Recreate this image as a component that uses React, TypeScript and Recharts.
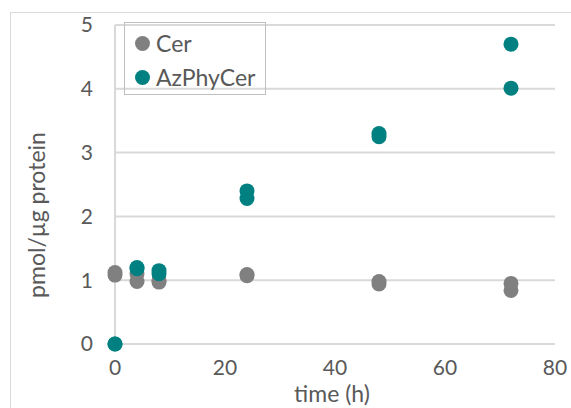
import React from 'react';
import { ScatterChart, Scatter, XAxis, YAxis, CartesianGrid, Legend } from 'recharts';

const seriesNames = ['Cer', 'AzPhyCer'];
const cerTime = [0, 0, 4, 4, 8, 8, 24, 24, 48, 48, 72, 72];
const cerValues = [1.12, 1.08, 1.1, 0.98, 1.0, 0.97, 1.09, 1.07, 0.98, 0.94, 0.95, 0.84];
const azTime = [0, 0, 4, 4, 8, 8, 24, 24, 48, 48, 72, 72];
const azValues = [0, 0, 1.2, 1.18, 1.15, 1.1, 2.4, 2.28, 3.3, 3.25, 4.7, 4.01];
const xTicks = [0, 20, 40, 60, 80];
const yTicks = [0, 1, 2, 3, 4, 5];

const cerData = cerTime.map((t, i) => ({ x: t, y: cerValues[i] }));
const azData = azTime.map((t, i) => ({ x: t, y: azValues[i] }));

const GRAY = '#808080';
const TEAL = '#008080';
const FONT = 'Lato, "Open Sans", sans-serif';

const dot = (color: string) => (props: any) => (
  <circle cx={props.cx} cy={props.cy} r={7.5} fill={color} />
);

const LegendBox = (props: any) => {
  const items = [...(props.payload || [])].sort(
    (a: any, b: any) => seriesNames.indexOf(a.value) - seriesNames.indexOf(b.value)
  );
  return (
    <div
      style={{
        width: 142,
        height: 73,
        border: '1.5px solid #bfbfbf',
        boxSizing: 'border-box',
        fontFamily: FONT,
        fontSize: 23,
        color: '#595959',
        padding: '3px 0 0 10px',
      }}
    >
      {items.map((it: any) => (
        <div key={it.value} style={{ display: 'flex', alignItems: 'center', height: 34 }}>
          <span
            style={{
              display: 'inline-block',
              width: 15,
              height: 15,
              borderRadius: '50%',
              background: it.color,
              marginRight: 6,
            }}
          />
          <span>{it.value}</span>
        </div>
      ))}
    </div>
  );
};

export default function App() {
  return (
    <div style={{ position: 'absolute', left: 0, top: 0, width: 571, height: 408, overflow: 'hidden', background: '#fff' }}>
      <div
        style={{
          position: 'absolute',
          left: 10,
          top: 12,
          width: 620,
          height: 450,
          border: '1.5px solid #d9d9d9',
        }}
      />
      <div style={{ position: 'absolute', left: 0, top: 0 }}>
        <ScatterChart width={571} height={408} margin={{ top: 25, right: 16, left: 0, bottom: 0 }}>
          <CartesianGrid horizontal vertical={false} stroke="#d9d9d9" strokeWidth={2} />
          <XAxis
            type="number"
            dataKey="x"
            domain={[0, 80]}
            ticks={xTicks}
            height={64}
            axisLine={false}
            tickLine={false}
            tickMargin={10}
            tick={{ fill: '#595959', fontSize: 21, fontFamily: FONT }}
            label={{
              content: () => (
                <text x={332} y={402} textAnchor="middle" fill="#595959" fontSize={23} fontFamily={FONT}>
                  time (h)
                </text>
              ),
            }}
          />
          <YAxis
            type="number"
            dataKey="y"
            domain={[0, 5]}
            ticks={yTicks}
            width={115}
            axisLine={{ stroke: '#d9d9d9', strokeWidth: 2 }}
            tickLine={false}
            tickMargin={16}
            tick={{ fill: '#595959', fontSize: 21, fontFamily: FONT }}
            label={{
              content: () => (
                <text
                  x={36}
                  y={215}
                  transform="rotate(-90 36 215)"
                  textAnchor="middle"
                  dominantBaseline="central"
                  fill="#595959"
                  fontSize={23}
                  fontFamily={FONT}
                >
                  pmol/µg protein
                </text>
              ),
            }}
          />
          <Legend
            layout="horizontal"
            verticalAlign="middle"
            align="center"
            wrapperStyle={{ left: 124, top: 22, width: 142, height: 73 }}
            content={LegendBox}
          />
          <Scatter name="Cer" data={cerData} fill={GRAY} shape={dot(GRAY)} isAnimationActive={false} />
          <Scatter name="AzPhyCer" data={azData} fill={TEAL} shape={dot(TEAL)} isAnimationActive={false} />
        </ScatterChart>
      </div>
    </div>
  );
}
